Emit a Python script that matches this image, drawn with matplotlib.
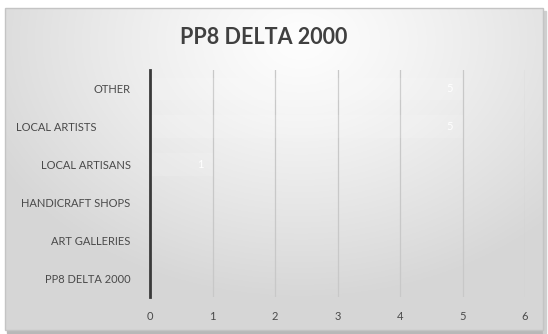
import numpy as np
import matplotlib.pyplot as plt
from matplotlib.patches import Rectangle

# data
categories = ['PP8 DELTA 2000', 'ART GALLERIES', 'HANDICRAFT SHOPS',
              'LOCAL ARTISANS', 'LOCAL ARTISTS' + ' ' * 12, 'OTHER']
values = [0, 0, 0, 1, 5, 5]
xticks = [0, 1, 2, 3, 4, 5, 6]
title = 'PP8 DELTA 2000'

plt.rcParams['font.family'] = ['Lato', 'DejaVu Sans']

W, H = 548, 334
fig = plt.figure(figsize=(W / 100, H / 100), dpi=100)
fig.patch.set_facecolor('white')

# chart area background: soft radial gradient inside a thin frame
x0, y0, x1, y1 = 5, 8, 543, 330
bg = fig.add_axes([x0 / W, 1 - y1 / H, (x1 - x0) / W, (y1 - y0) / H])
gx, gy = np.meshgrid(np.linspace(0, 1, 300), np.linspace(0, 1, 200))
r = np.sqrt(((gx - 0.55) / 0.8) ** 2 + ((gy - 0.1) / 1.0) ** 2)
shade = np.clip(0.995 - 0.2 * r ** 1.2, 0.84, 0.995)
bg.imshow(np.dstack([shade] * 3), aspect='auto', extent=[0, 1, 1, 0])
bg.set_xlim(0, 1)
bg.set_ylim(1, 0)
bg.axis('off')
bg.add_patch(Rectangle((0, 0), 1, 1, transform=bg.transAxes, fill=False,
                       edgecolor='#c4c4c4', lw=1.0, clip_on=False))
# shadow along the bottom and right edges
fig.add_artist(Rectangle((x0 / W + 0.004, 1 - (y1 + 3) / H), (x1 - x0) / W, 3 / H,
                         transform=fig.transFigure, color='#b8b8b8', zorder=-1))
fig.add_artist(Rectangle((x1 / W, 1 - (y1 + 3) / H), 3 / W, (y1 - y0) / H,
                         transform=fig.transFigure, color='#cfcfcf', zorder=-1))

ax = fig.add_axes([150 / W, 1 - 297 / H, 375 / W, 227 / H])
ax.patch.set_alpha(0)
y = np.arange(len(categories))
bars = ax.barh(y, values, height=0.6, color='white', alpha=0.12, zorder=2)
for v, yy in zip(values, y):
    if v:
        ax.text(v - 0.2, yy, str(v), color='white', fontsize=8,
                va='center', ha='center', zorder=3)

ax.set_xlim(0, 6)
ax.set_ylim(-0.5, len(categories) - 0.5)
ax.set_xticks(xticks)
ax.set_xticklabels([str(t) for t in xticks])
ax.set_yticks(y)
ax.set_yticklabels(categories)
ax.grid(axis='x', color='#c8c8c8', lw=0.9, zorder=1)
ax.set_axisbelow(True)
for s in ['top', 'right', 'bottom']:
    ax.spines[s].set_visible(False)
ax.spines['left'].set_color('#3a3a3a')
ax.spines['left'].set_linewidth(2)
ax.tick_params(axis='both', length=0, colors='#4a4a4a', labelsize=8)
ax.tick_params(axis='y', pad=14)
ax.tick_params(axis='x', pad=10)

fig.text(263.5 / W, 1 - 37 / H, title, ha='center', va='center',
         fontsize=15.5, fontweight='bold', color='#404040')

fig.savefig('out.png', dpi=100)
